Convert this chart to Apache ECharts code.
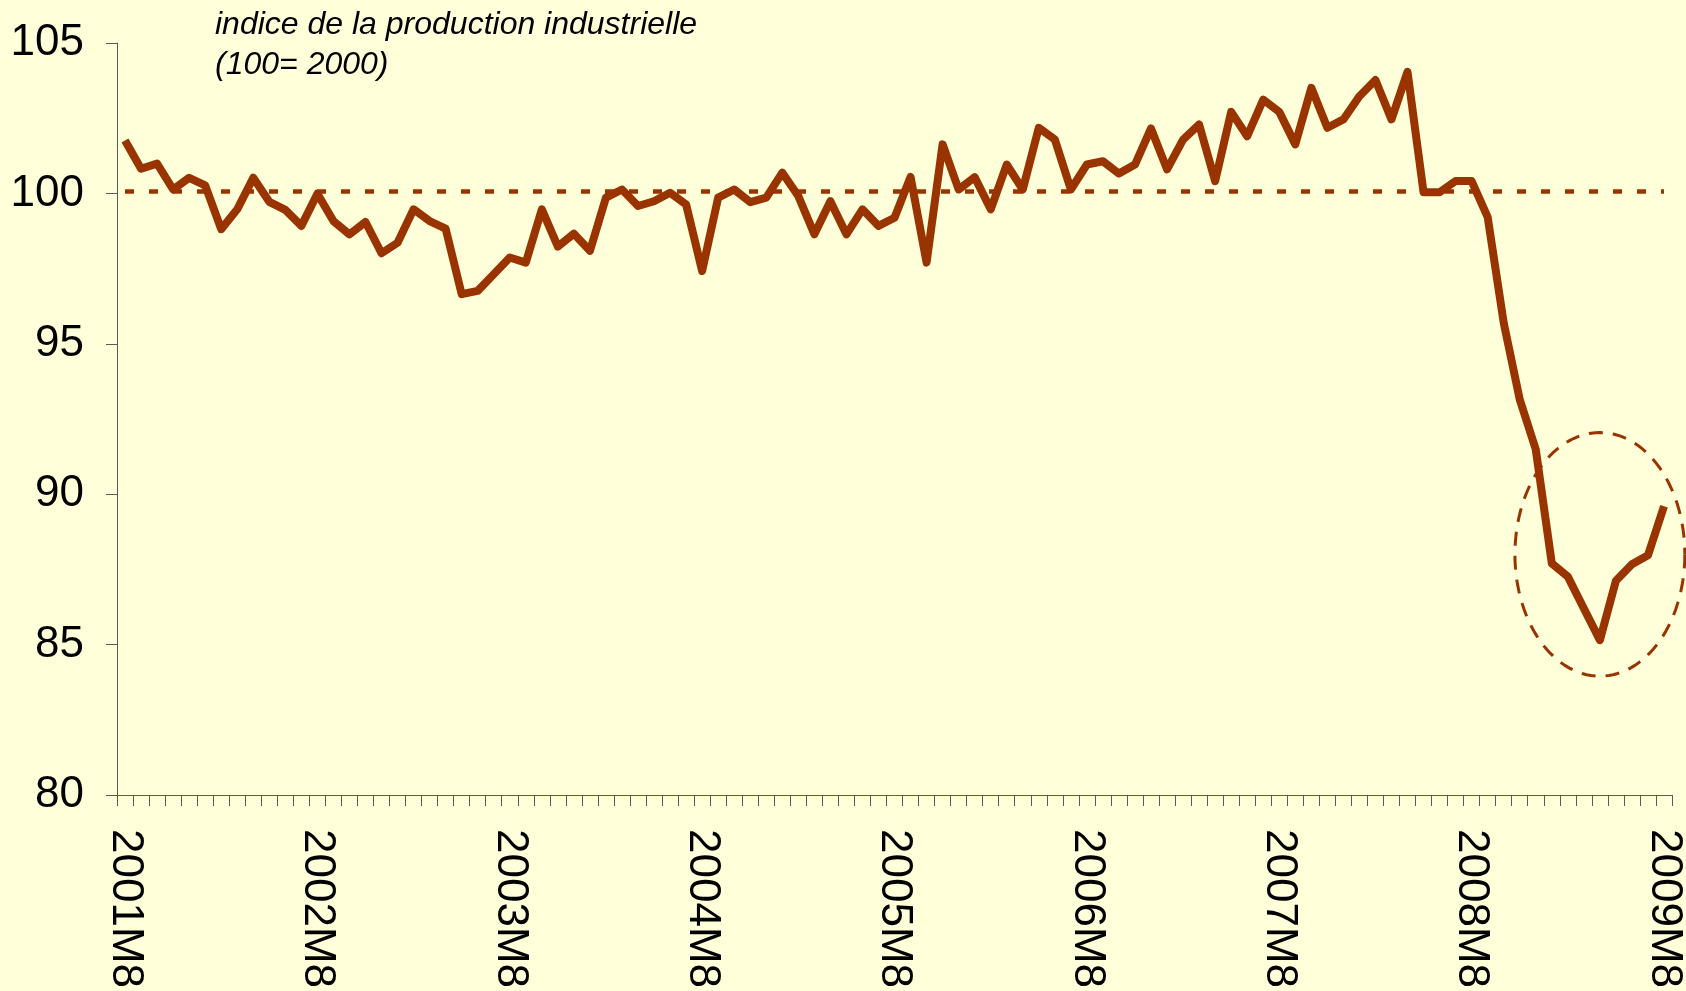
<!DOCTYPE html>
<html>
<head>
<meta charset="utf-8">
<script src="https://cdn.jsdelivr.net/npm/echarts@6/dist/echarts.min.js"></script>
<style>
  html, body { margin: 0; padding: 0; background: #FFFFDA; }
  #main { width: 1686px; height: 991px; }
</style>
</head>
<body>
<div id="main"></div>
<script>
// monthly index, 2001M8 .. 2009M8
var startYear = 2001
var startMonth = 8
var values = [
  101.76, 100.82, 100.99, 100.13, 100.52, 100.27, 98.81, 99.47, 100.52, 99.72, 99.45, 98.92,
  99.99, 99.08, 98.64, 99.05, 98.01, 98.36, 99.47, 99.08, 98.83, 96.65, 96.76, 97.31,
  97.87, 97.70, 99.47, 98.23, 98.66, 98.09, 99.86, 100.13, 99.58, 99.74, 100.02, 99.63,
  97.42, 99.86, 100.13, 99.71, 99.86, 100.69, 99.91, 98.64, 99.74, 98.64, 99.47, 98.92,
  99.19, 100.55, 97.70, 101.63, 100.13, 100.54, 99.47, 100.96, 100.13, 102.18, 101.79, 100.13,
  100.96, 101.07, 100.66, 100.96, 102.16, 100.80, 101.79, 102.29, 100.41, 102.71, 101.90, 103.12,
  102.71, 101.63, 103.51, 102.18, 102.46, 103.23, 103.77, 102.46, 104.04, 100.04, 100.04, 100.41,
  100.41, 99.21, 95.70, 93.15, 91.49, 87.70, 87.26, 86.20, 85.15, 87.12, 87.67, 87.97,
  89.60
]
var refLevel = 100.07
var yTicks = [80, 85, 90, 95, 100, 105]
var titleLines = ['indice de la production industrielle', '(100= 2000)']
// dashed ring around the end of the series (centre in data units, radii in months / index points)
var ringCenter = ['2009M4', 88]
var ringRadius = [5.3, 4.05]

var months = []
for (var i = 0; i < values.length; i++) {
  var m = startMonth - 1 + i
  months.push((startYear + Math.floor(m / 12)) + 'M' + (m % 12 + 1))
}

var brown = '#993300'
var axisGray = '#5a5a5a'
var font = 'Liberation Sans, Arial, sans-serif'

var myChart = echarts.init(document.getElementById('main'))

var option = {
  animation: false,
  backgroundColor: '#FFFFDA',
  title: {
    text: titleLines.join('\n'),
    left: 215,
    top: 5,
    padding: 0,
    textStyle: {
      fontFamily: font,
      fontSize: 32,
      fontStyle: 'italic',
      fontWeight: 'normal',
      lineHeight: 40,
      color: '#000'
    }
  },
  grid: { left: 117, right: 12, top: 43, bottom: 194 },
  xAxis: {
    type: 'category',
    data: months,
    boundaryGap: true,
    axisLine: { show: true, lineStyle: { color: axisGray, width: 1 } },
    axisTick: { show: true, interval: 0, length: 11, lineStyle: { color: axisGray, width: 1 } },
    axisLabel: {
      interval: 11,
      rotate: -90,
      margin: 34,
      fontFamily: font,
      fontSize: 44,
      color: '#000'
    },
    splitLine: { show: false }
  },
  yAxis: {
    type: 'value',
    min: yTicks[0],
    max: yTicks[yTicks.length - 1],
    interval: 5,
    axisLine: { show: true, lineStyle: { color: axisGray, width: 1 } },
    axisTick: { show: true, length: 11, lineStyle: { color: axisGray } },
    axisLabel: {
      margin: 33,
      fontFamily: font,
      fontSize: 44,
      color: '#000'
    },
    splitLine: { show: false }
  },
  series: [{
    type: 'line',
    data: values,
    showSymbol: false,
    symbol: 'none',
    lineStyle: { color: brown, width: 8, join: 'round' },
    markLine: {
      silent: true,
      symbol: ['none', 'none'],
      label: { show: false },
      lineStyle: { color: brown, width: 4.5, type: [9, 15] },
      data: [[
        { coord: [months[0], refLevel] },
        { coord: [months[months.length - 1], refLevel] }
      ]]
    }
  }]
}
myChart.setOption(option)

// ring drawn in pixels from the axis scales
var c = myChart.convertToPixel({ gridIndex: 0 }, ringCenter)
var idx = months.indexOf(ringCenter[0])
var px = myChart.convertToPixel({ gridIndex: 0 }, [months[idx + 1], ringCenter[1]])[0] - c[0]
var py = c[1] - myChart.convertToPixel({ gridIndex: 0 }, [ringCenter[0], ringCenter[1] + 1])[1]
var rx = ringRadius[0] * px
var ry = ringRadius[1] * py
var pts = []
for (var k = 0; k <= 120; k++) {
  var t = k / 120 * Math.PI * 2
  pts.push([c[0] + rx * Math.cos(t), c[1] + ry * Math.sin(t)])
}
myChart.setOption({
  graphic: [{
    type: 'polyline',
    silent: true,
    z: 10,
    shape: { points: pts },
    style: { stroke: brown, lineWidth: 3, lineDash: [14, 10], fill: null }
  }]
})
</script>
</body>
</html>
